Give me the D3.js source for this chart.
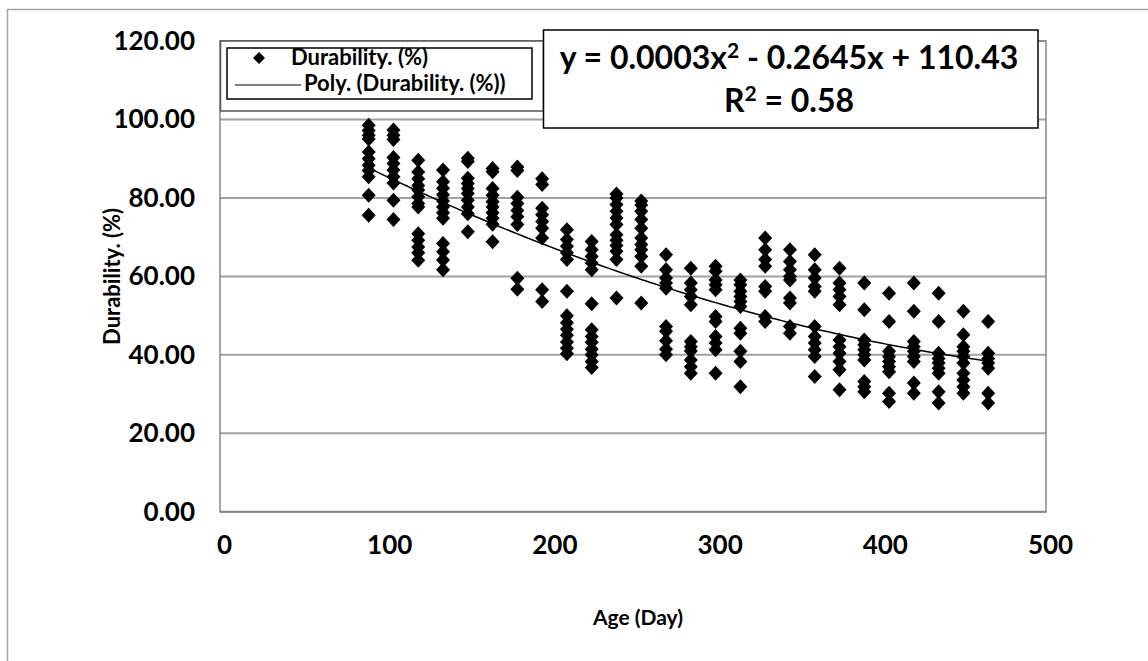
<!DOCTYPE html>
<html>
<head>
<meta charset="utf-8">
<script src="https://cdn.jsdelivr.net/npm/d3@7"></script>
<style>
body { margin: 0; background: #fff; }
text { font-family: Lato, "Open Sans", sans-serif; font-weight: bold; fill: #000; }
</style>
</head>
<body>
<div id="chart"></div>
<script>
// ages (days) at which the samples were tested
const ages = [90, 105, 120, 135, 150, 165, 180, 195, 210, 225, 240, 255, 270,
              285, 300, 315, 330, 345, 360, 375, 390, 405, 420, 435, 450, 465];

// durability (%) readings, one list per age
const durability = [
  [98.5, 97.2, 96, 95, 91.7, 90, 88.3, 87, 85.4, 80.7, 75.6],
  [97.3, 96, 94.9, 90.3, 88.8, 87.1, 85.4, 83.8, 79.4, 74.5],
  [89.6, 86.6, 84.9, 83.2, 82, 80.3, 78.6, 77.7, 70.9, 69.2, 67.5, 66, 64.1],
  [87.1, 84.1, 82.5, 80.8, 79.2, 77.7, 76.2, 74.8, 68.4, 66.3, 64.2, 61.7],
  [90.1, 89.3, 85, 83.7, 82.4, 81.1, 79.4, 77.7, 76, 71.4],
  [87.5, 86.7, 82.4, 80.7, 79, 77.7, 76.2, 74.8, 73.3, 68.8],
  [87.9, 87, 80.2, 78.6, 76.8, 75.2, 73.2, 59.5, 56.7],
  [84.9, 83.4, 77.4, 75.7, 74, 72.3, 69.8, 56.6, 53.6],
  [71.9, 69.4, 67.7, 66, 64.3, 56.2, 50, 48.2, 46.5, 45, 43.3, 41.7, 40.3],
  [68.9, 66.8, 65.1, 63.4, 61.7, 53, 46.4, 44.7, 43.2, 41.4, 40, 38.3, 36.8],
  [81, 80, 78.3, 76.6, 74.9, 73.2, 70.6, 69.2, 67.9, 66.4, 64.3, 54.5],
  [79.2, 78.2, 76.6, 74.5, 72.3, 69.8, 68.1, 66.8, 65.1, 62.6, 53.2],
  [65.5, 61.7, 59.6, 58.3, 57, 47.2, 46, 43.6, 41.4, 40],
  [62.1, 58.3, 56.6, 54.9, 52.8, 43.4, 42.1, 41, 38.7, 37, 35.3],
  [62.6, 61.3, 59.1, 57.9, 56.6, 49.8, 48.5, 44.7, 43, 41.3, 35.3],
  [59.1, 57.9, 56.2, 54.9, 53.6, 52.3, 46.8, 45.5, 40.9, 38.3, 31.9],
  [69.8, 66.8, 64.3, 62.6, 57.4, 56.2, 49.8, 48.5],
  [66.8, 63.8, 61.7, 60, 59.1, 54.5, 53.2, 47.2, 45.5],
  [65.5, 61.7, 59.6, 57.4, 56.2, 47.2, 44.7, 43, 41.3, 39.6, 34.5],
  [62.1, 58.3, 56.6, 54.9, 52.8, 43.8, 42.1, 40.4, 38.3, 36.2, 31.1],
  [58.3, 51.5, 43.8, 42.6, 41.3, 40, 38.7, 33.2, 31.9, 30.6],
  [55.7, 48.5, 40.9, 39.6, 38.3, 37, 35.7, 30.2, 28.1],
  [58.3, 51.1, 43.4, 42.1, 40.9, 39.6, 38.3, 32.8, 30.2],
  [55.7, 48.5, 40.4, 39.1, 37.9, 36.6, 35.3, 30.6, 27.7],
  [51.1, 45.1, 42.1, 40.9, 39.6, 37.9, 35.3, 33.6, 31.9, 30.2],
  [48.5, 40.4, 39.1, 37.9, 36.6, 30.2, 27.7]
];

const xTicks = [0, 100, 200, 300, 400, 500];
const yTicks = [0, 20, 40, 60, 80, 100, 120];
const legendLabels = ["Durability. (%)", "Poly. (Durability. (%))"];
const xTitle = "Age (Day)";
const yTitle = "Durability. (%)";

// flat list of points
const points = [];
ages.forEach((a, i) => durability[i].forEach(v => points.push({ age: a, value: v })));

// 2nd order least squares fit, like the spreadsheet trendline
function polyFit(pts) {
  let s = [0, 0, 0, 0, 0], t = [0, 0, 0];
  pts.forEach(p => {
    for (let k = 0; k < 5; k++) s[k] += Math.pow(p.age, k);
    for (let k = 0; k < 3; k++) t[k] += p.value * Math.pow(p.age, k);
  });
  const m = [[s[0], s[1], s[2]], [s[1], s[2], s[3]], [s[2], s[3], s[4]]];
  const det = a => a[0][0] * (a[1][1] * a[2][2] - a[1][2] * a[2][1])
                 - a[0][1] * (a[1][0] * a[2][2] - a[1][2] * a[2][0])
                 + a[0][2] * (a[1][0] * a[2][1] - a[1][1] * a[2][0]);
  const d = det(m);
  return [0, 1, 2].map(c => det(m.map((row, r) => row.map((v, j) => j === c ? t[r] : v))) / d);
}
const coef = polyFit(points);
const trend = d3.range(90, 465.01, 2.5).map(a => ({ age: a, value: coef[0] + coef[1] * a + coef[2] * a * a }));

const width = 1148, height = 661;
const svg = d3.select("#chart").append("svg")
  .attr("width", width).attr("height", height);

// outer chart frame
svg.append("rect").attr("x", 7.5).attr("y", 9.5).attr("width", 1200).attr("height", 700)
  .attr("fill", "none").attr("stroke", "#a6a6a6").attr("stroke-width", 1.5);

const x = d3.scaleLinear().domain([0, 500]).range([220, 1046]);
const y = d3.scaleLinear().domain([0, 120]).range([511.8, 41]);

// gridlines
svg.append("g").selectAll("line").data(yTicks.filter(d => d > 0)).join("line")
  .attr("x1", x(0)).attr("x2", x(500))
  .attr("y1", d => y(d)).attr("y2", d => y(d))
  .attr("stroke", "#a0a0a0").attr("stroke-width", 2);

// plot area border
svg.append("rect").attr("x", x(0)).attr("y", y(120))
  .attr("width", x(500) - x(0)).attr("height", y(0) - y(120))
  .attr("fill", "none").attr("stroke", "#868686").attr("stroke-width", 1.5);

// axes
const yAxis = svg.append("g").attr("transform", `translate(${x(0)},0)`)
  .call(d3.axisLeft(y).tickValues(yTicks).tickSize(0).tickPadding(25).tickFormat(d3.format(".2f")));
const xAxis = svg.append("g").attr("transform", `translate(0,${y(0)})`)
  .call(d3.axisBottom(x).tickValues(xTicks).tickSize(0).tickPadding(24).tickFormat(d3.format("d")));
[yAxis, xAxis].forEach(g => {
  g.select(".domain").remove();
  g.selectAll("text").style("font-size", "26px").attr("font-family", null);
});
xAxis.selectAll("text").attr("dx", 4);
svg.append("line").attr("x1", x(0)).attr("x2", x(500)).attr("y1", y(0)).attr("y2", y(0))
  .attr("stroke", "#868686").attr("stroke-width", 2);

// axis titles
svg.append("text").attr("x", (x(0) + x(500)) / 2 + 5).attr("y", 625)
  .attr("text-anchor", "middle").style("font-size", "21px").text(xTitle);
svg.append("text").attr("transform", `translate(120,${(y(0) + y(120)) / 2}) rotate(-90)`)
  .attr("text-anchor", "middle").style("font-size", "22px").text(yTitle);

// data points
const diamond = "M0,-7.5L7,0L0,7.5L-7,0Z";
svg.append("g").selectAll("path").data(points).join("path")
  .attr("d", diamond)
  .attr("transform", d => `translate(${x(d.age)},${y(d.value)})`)
  .attr("fill", "#000");

// trendline
svg.append("path").datum(trend)
  .attr("d", d3.line().x(d => x(d.age)).y(d => y(d.value)))
  .attr("fill", "none").attr("stroke", "#000").attr("stroke-width", 1.5);

// legend
const lg = svg.append("g");
lg.append("rect").attr("x", 220.5).attr("y", 41).attr("width", 323).attr("height", 70)
  .attr("fill", "#fff").attr("stroke", "#555").attr("stroke-width", 1.5);
lg.append("rect").attr("x", 227).attr("y", 48).attr("width", 305).attr("height", 51)
  .attr("fill", "#fff").attr("stroke", "#000").attr("stroke-width", 1.5);
lg.append("path").attr("d", "M0,-6L6,0L0,6L-6,0Z").attr("transform", "translate(259,58)");
lg.append("line").attr("x1", 235).attr("x2", 301).attr("y1", 85).attr("y2", 85)
  .attr("stroke", "#000").attr("stroke-width", 1.2);
lg.selectAll("text").data(legendLabels).join("text")
  .attr("x", (d, i) => i === 0 ? 291 : 304).attr("y", (d, i) => 64.5 + i * 26.5)
  .style("font-size", "22px").text(d => d);

// equation box
const eq = svg.append("g");
eq.append("rect").attr("x", 543.5).attr("y", 30).attr("width", 494.5).attr("height", 98)
  .attr("fill", "#fff").attr("stroke", "#000").attr("stroke-width", 1.5);
const l1 = eq.append("text").attr("x", 789).attr("y", 69).attr("text-anchor", "middle").style("font-size", "32px");
l1.append("tspan").text("y = 0.0003x");
l1.append("tspan").attr("dy", -11).style("font-size", "21px").text("2");
l1.append("tspan").attr("dy", 11).text(" - 0.2645x + 110.43");
const l2 = eq.append("text").attr("x", 789).attr("y", 112).attr("text-anchor", "middle").style("font-size", "32px");
l2.append("tspan").text("R");
l2.append("tspan").attr("dy", -11).style("font-size", "21px").text("2");
l2.append("tspan").attr("dy", 11).text(" = 0.58");
</script>
</body>
</html>
